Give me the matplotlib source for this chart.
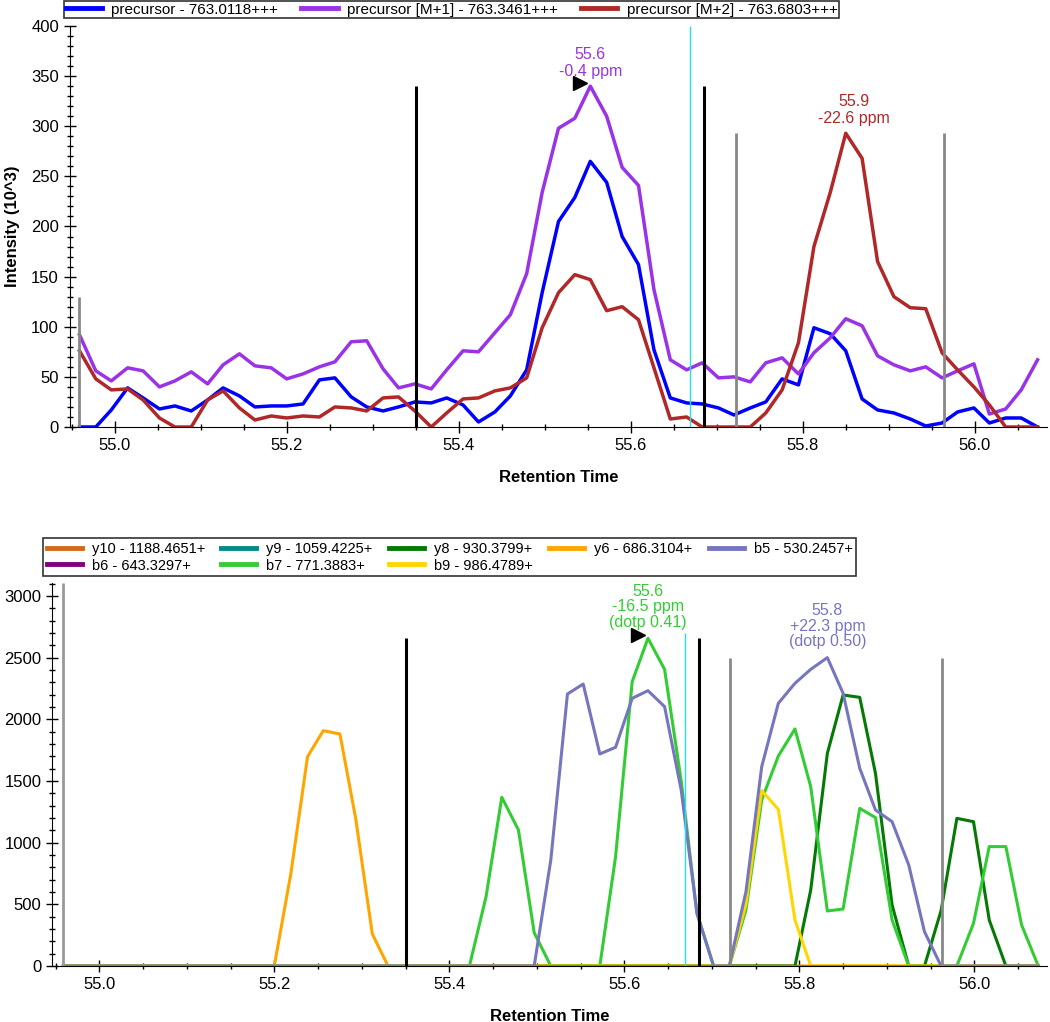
import matplotlib.pyplot as plt
from matplotlib.ticker import MultipleLocator
from matplotlib.transforms import ScaledTranslation

plt.rcParams['font.family'] = ['Liberation Sans', 'DejaVu Sans']

# retention times (min), shared by every trace
rt = [54.959, 54.978, 54.996, 55.015, 55.033, 55.052, 55.070, 55.089, 55.108, 55.126,
      55.145, 55.163, 55.182, 55.200, 55.219, 55.238, 55.256, 55.275, 55.293, 55.312,
      55.330, 55.349, 55.368, 55.386, 55.405, 55.423, 55.442, 55.460, 55.479, 55.497,
      55.516, 55.535, 55.553, 55.572, 55.590, 55.609, 55.627, 55.646, 55.665, 55.683,
      55.702, 55.720, 55.739, 55.757, 55.776, 55.795, 55.813, 55.832, 55.850, 55.869,
      55.887, 55.906, 55.925, 55.943, 55.962, 55.980, 55.999, 56.017, 56.036, 56.054,
      56.073]

# ----------------------------------------
# precursor traces, intensity in 10^3
# ----------------------------------------
prec_m0 = [0, 0, 17, 39, 29, 18, 21, 16, 27, 39, 31, 20, 21, 21, 23, 47, 49, 30, 20, 16,
           20, 25, 24, 29, 22, 5, 15, 31, 57, 134, 205, 229, 265, 244, 190, 162, 77, 29, 24, 23,
           19, 12, 19, 25, 48, 42, 99, 93, 76, 28, 17, 14, 8, 1, 4, 15, 19, 4, 9, 9, 0]
prec_m1 = [92, 56, 46, 59, 56, 40, 46, 55, 43, 62, 73, 61, 59, 48, 53, 60, 65, 85, 86, 58,
           39, 43, 38, 57, 76, 75, 94, 112, 153, 234, 298, 308, 340, 310, 259, 241, 137, 67, 57, 64,
           49, 50, 45, 64, 69, 53, 74, 89, 108, 101, 71, 62, 56, 60, 49, 56, 63, 13, 18, 37, 67]
prec_m2 = [76, 48, 37, 38, 27, 9, 0, 0, 27, 36, 19, 7, 11, 9, 11, 10, 20, 19, 16, 29,
           30, 16, 0, 14, 28, 29, 36, 39, 49, 99, 134, 152, 147, 116, 120, 107, 59, 8, 10, 0,
           0, 0, 0, 14, 37, 84, 180, 234, 293, 268, 165, 130, 119, 118, 74, 57, 40, 22, 0, 0, 0]
prec_labels = ["precursor - 763.0118+++", "precursor [M+1] - 763.3461+++",
               "precursor [M+2] - 763.6803+++"]
prec_colors = ["#0000FF", "#9A32E8", "#B02828"]

# ----------------------------------------
# fragment traces, raw intensity
# ----------------------------------------
zeros = [0] * 61
y10 = zeros
y9 = zeros
b6 = zeros
y8 = [0] * 45 + [0, 616, 1724, 2197, 2178, 1562, 494, 0, 0, 450, 1197, 1170, 373, 0, 0, 0]
y6 = [0] * 13 + [0, 752, 1697, 1908, 1881, 1197, 260, 0] + [0] * 40
b5 = [0] * 29 + [0, 860, 2205, 2286, 1719, 1773, 2170, 2232, 2103, 1427, 427, 0, 0,
                 603, 1616, 2130, 2292, 2405, 2500, 2211, 1603, 1265, 1170, 819, 278, 0] + [0] * 6
b7 = [0] * 25 + [0, 562, 1368, 1103, 270, 0, 0, 0, 0, 886, 2305, 2657, 2405, 1500, 427, 0, 0,
                 454, 1346, 1703, 1922, 1454, 446, 462, 1278, 1203, 373, 0, 0, 0, 0,
                 346, 968, 968, 332, 0]
b9 = [0] * 41 + [0, 500, 1422, 1270, 373, 0] + [0] * 14

frag_labels = ["y10 - 1188.4651+", "y9 - 1059.4225+", "y8 - 930.3799+", "y6 - 686.3104+",
               "b5 - 530.2457+", "b6 - 643.3297+", "b7 - 771.3883+", "b9 - 986.4789+"]
frag_colors = ["#D2691E", "#008B8B", "#047A04", "#FFA500",
               "#7676C0", "#800080", "#34CC34", "#FFD700"]

# integration boundaries / markers
top_black = [55.35, 55.685]
top_grey = [55.722, 55.964]
top_grey_first = 54.959
top_grey_first_h = 130
bot_black = [55.35, 55.685]
bot_grey = [55.721, 55.963]
bot_grey_first = 54.959
cyan_rt = 55.669
bot_cyan_h = 2700

fig = plt.figure(figsize=(10.5, 10.22), dpi=100)
W, H = 1050.0, 1022.0


def style_axis(ax):
    for s in ["top", "right"]:
        ax.spines[s].set_visible(False)
    ax.tick_params(which="major", direction="inout", length=9, width=1, labelsize=12)
    ax.tick_params(which="minor", direction="inout", length=5, width=1)
    ax.xaxis.set_major_locator(MultipleLocator(0.2))
    ax.xaxis.set_minor_locator(MultipleLocator(0.05))
    ax.xaxis.set_major_formatter(plt.FormatStrFormatter("%.1f"))
    ax.set_xlabel("Retention Time", fontsize=12, fontweight="bold", labelpad=12)


def tri_marker(ax, x, y):
    # black arrow head sitting just left of the apex
    off = ScaledTranslation(-10 / 100.0, 3 / 100.0, fig.dpi_scale_trans)
    ax.plot([x], [y], marker=">", color="black", markersize=10, linestyle="none",
            transform=ax.transData + off, zorder=10, clip_on=False)


# ---------------------------
# Top: precursor chromatogram
# ---------------------------
ax1 = fig.add_axes([70 / W, 1 - 427 / H, 977 / W, 401 / H])
style_axis(ax1)
ax1.set_xlim(54.948, 56.084)
ax1.set_ylim(0, 400)
ax1.yaxis.set_major_locator(MultipleLocator(50))
ax1.yaxis.set_minor_locator(MultipleLocator(10))
ax1.set_ylabel("Intensity (10^3)", fontsize=12, fontweight="bold", labelpad=8)

for ys, lab, c in zip([prec_m0, prec_m1, prec_m2], prec_labels, prec_colors):
    ax1.plot(rt, ys, color=c, lw=2.5, label=lab, zorder=3)

ax1.vlines(top_black, 0, max(prec_m1), color="black", lw=2.2, zorder=4)
ax1.vlines(top_grey, 0, max(prec_m2), color="#888888", lw=2, zorder=4)
ax1.vlines([top_grey_first], 0, top_grey_first_h, color="#888888", lw=2, zorder=4)
ax1.vlines([cyan_rt], 0, 400, color="#22E0F0", lw=1, zorder=4)

k1 = prec_m1.index(max(prec_m1))
ax1.annotate("55.6\n-0.4 ppm", xy=(rt[k1], prec_m1[k1]), xytext=(0, 5),
             textcoords="offset points", ha="center", va="bottom",
             color=prec_colors[1], fontsize=11.5, linespacing=1.2)
tri_marker(ax1, rt[k1], prec_m1[k1])
k2 = prec_m2.index(max(prec_m2))
ax1.annotate("55.9\n-22.6 ppm", xy=(rt[k2], prec_m2[k2]), xytext=(6, 5),
             textcoords="offset points", ha="center", va="bottom",
             color=prec_colors[2], fontsize=11.5, linespacing=1.2)

leg1 = ax1.legend(loc="upper left", bbox_to_anchor=(64 / W, 1 - 1 / H),
                  bbox_transform=fig.transFigure, ncol=3, fontsize=11, frameon=True,
                  fancybox=False, edgecolor="black", borderpad=0.1, handlelength=2.4,
                  handletextpad=0.6, columnspacing=1.5, borderaxespad=0)
leg1.get_frame().set_linewidth(1.2)
for h in leg1.get_lines():
    h.set_linewidth(3.5)

# ---------------------------
# Bottom: fragment chromatogram
# ---------------------------
ax2 = fig.add_axes([52 / W, 1 - 966 / H, 995 / W, 383 / H])
style_axis(ax2)
ax2.set_xlim(54.946, 56.083)
ax2.set_ylim(0, 3105)
ax2.yaxis.set_major_locator(MultipleLocator(500))
ax2.yaxis.set_minor_locator(MultipleLocator(100))
ax2.tick_params(axis="y", pad=3)

frag_data = [y10, y9, y8, y6, b5, b6, b7, b9]
z_order = [6, 2, 4, 3, 5, 2, 4, 4]
lines = []
for ys, lab, c, z in zip(frag_data, frag_labels, frag_colors, z_order):
    ln, = ax2.plot(rt, ys, color=c, lw=2.2, label=lab, zorder=z)
    lines.append(ln)

ax2.vlines(bot_black, 0, max(b7), color="black", lw=2.2, zorder=7)
ax2.vlines(bot_grey, 0, max(b5), color="#888888", lw=2, zorder=7)
ax2.vlines([bot_grey_first], 0, 3105, color="#999999", lw=2, zorder=7)
ax2.vlines([cyan_rt], 0, bot_cyan_h, color="#22E0F0", lw=1, zorder=7)

k3 = b7.index(max(b7))
ax2.annotate("55.6\n-16.5 ppm\n(dotp 0.41)", xy=(rt[k3], b7[k3]), xytext=(0, 6),
             textcoords="offset points", ha="center", va="bottom",
             color=frag_colors[6], fontsize=11.5, linespacing=1.05)
tri_marker(ax2, rt[k3], b7[k3])
k4 = b5.index(max(b5))
ax2.annotate("55.8\n+22.3 ppm\n(dotp 0.50)", xy=(rt[k4], b5[k4]), xytext=(0, 6),
             textcoords="offset points", ha="center", va="bottom",
             color=frag_colors[4], fontsize=11.5, linespacing=1.05)

# legend is filled row by row in the reference: reorder for matplotlib's column fill
order = [0, 5, 1, 6, 2, 7, 3, 4]
leg2 = ax2.legend([lines[i] for i in order], [frag_labels[i] for i in order],
                  loc="upper left", bbox_to_anchor=(43 / W, 1 - 538 / H),
                  bbox_transform=fig.transFigure, ncol=5, fontsize=10.5, frameon=True,
                  fancybox=False, edgecolor="black", borderpad=0.25, labelspacing=0.2,
                  handlelength=2.4, handletextpad=0.7, columnspacing=1.1, borderaxespad=0)
leg2.get_frame().set_linewidth(1.2)
for h in leg2.get_lines():
    h.set_linewidth(3.5)

fig.savefig("out.png", dpi=100)
